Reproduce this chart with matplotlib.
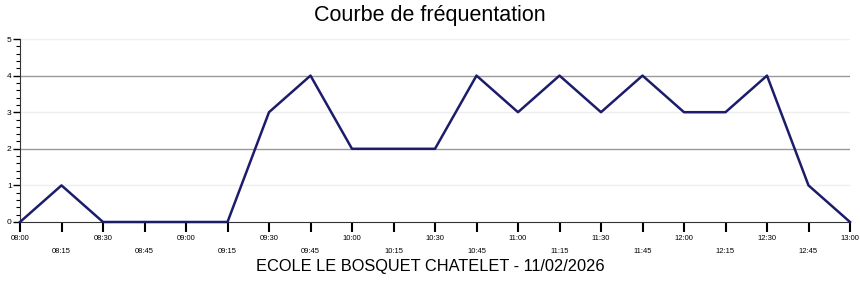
import matplotlib
matplotlib.use('Agg')
import matplotlib.pyplot as plt

times = ['08:00', '08:15', '08:30', '08:45', '09:00', '09:15', '09:30',
         '09:45', '10:00', '10:15', '10:30', '10:45', '11:00', '11:15',
         '11:30', '11:45', '12:00', '12:15', '12:30', '12:45', '13:00']
visits = [0, 1, 0, 0, 0, 0, 3, 4, 2, 2, 2, 4, 3, 4, 3, 4, 3, 3, 4, 1, 0]

TITLE = 'Courbe de fréquentation'
SUBTITLE = 'ECOLE LE BOSQUET CHATELET - 11/02/2026'

plt.rcParams['font.family'] = ['Liberation Sans', 'DejaVu Sans']

fig = plt.figure(figsize=(8.6, 2.84), dpi=100)
ax = fig.add_axes([20/860, 1-222/284, 830/860, (222-39)/284])

x = list(range(len(times)))

# grid: dark at 2,4 light at 1,3,5
for v in [1, 3, 5]:
    ax.axhline(v, color='#eeeeee', lw=1, zorder=0)
for v in [2, 4]:
    ax.axhline(v, color='#999999', lw=1, zorder=0)

ax.plot(x, visits, color='#1c1c6b', lw=1.8, zorder=3, clip_on=False)

ax.set_xlim(0, len(times) - 1)
ax.set_ylim(0, 5)
ax.spines['top'].set_visible(False)
ax.spines['right'].set_visible(False)
ax.spines['left'].set_color('#333333')
ax.spines['bottom'].set_color('#333333')

# y axis
ax.set_yticks(range(6))
ax.set_yticks([i * 0.2 for i in range(26)], minor=True)
ax.tick_params(axis='y', which='major', length=5, width=1, labelsize=6, pad=1)
ax.tick_params(axis='y', which='minor', length=3, width=0.8)

# x axis: even labels high, odd labels low
ax.set_xticks(x[::2])
ax.set_xticklabels(times[::2])
ax.set_xticks(x[1::2], minor=True)
ax.set_xticklabels(times[1::2], minor=True)
ax.tick_params(axis='x', which='major', length=7, width=1.5, labelsize=5.5, pad=2)
ax.tick_params(axis='x', which='minor', length=7, width=1.5, labelsize=5.5, pad=12)

fig.text(0.5, 1-15/284, TITLE, ha='center', va='center', fontsize=15.5)
fig.text(0.5, 1-267/284, SUBTITLE, ha='center', va='center', fontsize=11.8)

fig.savefig('out.png', dpi=100)
